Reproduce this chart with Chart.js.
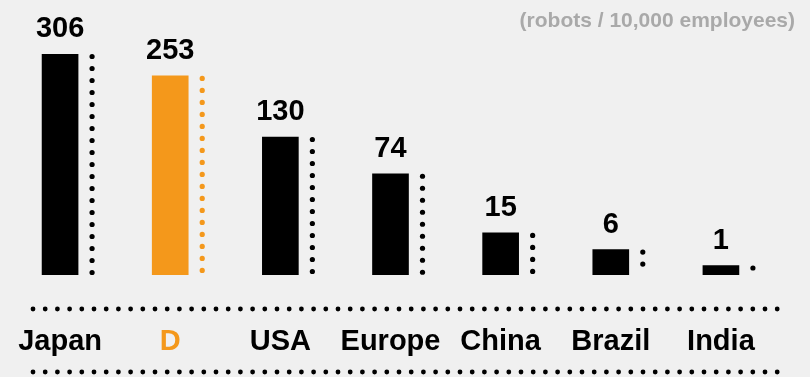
<!DOCTYPE html>
<html>
<head>
<meta charset="utf-8">
<script src="https://cdn.jsdelivr.net/npm/chart.js@4/dist/chart.umd.min.js"></script>
<style>
    html, body { margin: 0; padding: 0; background: #f0f0f0; }
    #wrap { position: relative; width: 810px; height: 377px; }
</style>
</head>
<body>
<div id="wrap"><canvas id="robotChart"></canvas></div>
<script>
    const categories = ['Japan', 'D', 'USA', 'Europe', 'China', 'Brazil', 'India'];
    const robotDensity = [306, 253, 130, 74, 15, 6, 1];
    const highlightIndex = 1;
    const unitNote = '(robots / 10,000 employees)';

    const BLACK = '#000000';
    const ORANGE = '#f4981b';
    const FONT = '"Liberation Sans", Arial, Helvetica, sans-serif';
    const POWER_EXP = 0.55;

    const barColors = categories.map((c, i) => i === highlightIndex ? ORANGE : BLACK);

    // y scale compressed by a power curve so the small values stay visible
    class PowerScale extends Chart.LinearScale {
        getPixelForValue(value) {
            if (value === null || value === undefined) return NaN;
            const lo = Math.pow(Math.max(this.min, 0), POWER_EXP);
            const hi = Math.pow(this.max, POWER_EXP);
            const v = Math.pow(Math.max(value, 0), POWER_EXP);
            return this.getPixelForDecimal((v - lo) / (hi - lo));
        }
        getValueForPixel(pixel) {
            const lo = Math.pow(Math.max(this.min, 0), POWER_EXP);
            const hi = Math.pow(this.max, POWER_EXP);
            const d = this.getDecimalForPixel(pixel);
            return Math.pow(lo + d * (hi - lo), 1 / POWER_EXP);
        }
    }
    PowerScale.id = 'power';
    PowerScale.defaults = Chart.LinearScale.defaults;
    Chart.register(PowerScale);

    function dotRow(ctx, x0, x1, y, step, r) {
        for (let x = x0; x <= x1 + 0.1; x += step) {
            ctx.beginPath();
            ctx.arc(x, y, r, 0, Math.PI * 2);
            ctx.fill();
        }
    }

    const decorations = {
        id: 'decorations',
        afterDatasetsDraw(chart) {
            const ctx = chart.ctx;
            const meta = chart.getDatasetMeta(0);
            ctx.save();

            meta.data.forEach((bar, i) => {
                // value above the bar
                ctx.fillStyle = BLACK;
                ctx.font = `bold 29px ${FONT}`;
                ctx.textAlign = 'center';
                ctx.textBaseline = 'alphabetic';
                ctx.fillText(String(robotDensity[i]), bar.x, bar.y - 17);

                // dotted rule beside the bar, same height as the bar
                ctx.fillStyle = barColors[i];
                const dx = bar.x + bar.width / 2 + 14;
                for (let y = bar.y + 2.5; y <= bar.base; y += 12) {
                    ctx.beginPath();
                    ctx.arc(dx, y, 2.6, 0, Math.PI * 2);
                    ctx.fill();
                }
            });

            // dotted rules framing the category labels
            const xs = chart.scales.x;
            ctx.fillStyle = BLACK;
            dotRow(ctx, 33, 780, xs.top + 34, 12.2, 2.4);
            dotRow(ctx, 33, 780, xs.bottom - 5, 12.2, 2.4);

            // unit note
            ctx.fillStyle = '#a9a9a9';
            ctx.font = `bold 21px ${FONT}`;
            ctx.textAlign = 'right';
            ctx.textBaseline = 'alphabetic';
            ctx.fillText(unitNote, 795, 27);

            ctx.restore();
        }
    };

    new Chart(document.getElementById('robotChart'), {
        type: 'bar',
        data: {
            labels: categories,
            datasets: [{
                data: robotDensity,
                backgroundColor: barColors,
                barThickness: 36,
                borderWidth: 0
            }]
        },
        options: {
            responsive: true,
            maintainAspectRatio: false,
            animation: false,
            layout: { padding: { top: 54, left: 5, right: 34, bottom: 0 } },
            plugins: {
                legend: { display: false },
                tooltip: { enabled: false }
            },
            scales: {
                x: {
                    grid: { display: false, drawTicks: false },
                    border: { display: false },
                    ticks: {
                        padding: 50,
                        autoSkip: false,
                        maxRotation: 0,
                        font: { family: FONT, size: 29, weight: 'bold' },
                        color: (c) => c.index === highlightIndex ? ORANGE : BLACK
                    },
                    // fixed band for the labels, no extra side padding
                    afterFit(scale) {
                        scale.height = 102;
                        scale.paddingLeft = 0;
                        scale.paddingRight = 0;
                    }
                },
                y: {
                    type: 'power',
                    display: false,
                    min: 0,
                    max: Math.max(...robotDensity)
                }
            }
        },
        plugins: [decorations]
    });
</script>
</body>
</html>
